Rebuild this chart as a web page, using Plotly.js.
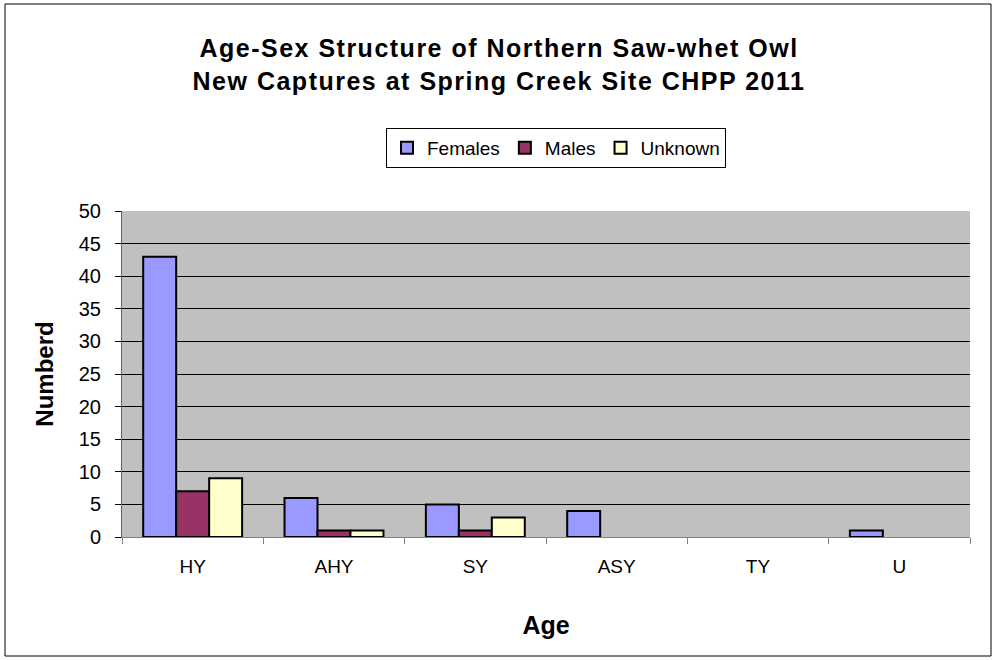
<!DOCTYPE html>
<html><head><meta charset="utf-8">
<script src="https://cdn.plot.ly/plotly-3.0.1.min.js"></script>
<style>html,body{margin:0;padding:0;background:#fff}
.gtitle{letter-spacing:1.5px}</style>
</head><body>
<div id="chart" style="width:998px;height:660px"></div>
<script>
const categories = ["HY", "AHY", "SY", "ASY", "TY", "U"];
const females = [43, 6, 5, 4, 0, 1];
const males = [7, 1, 1, 0, 0, 0];
const unknown = [9, 1, 3, 0, 0, 0];
const yTicks = [0, 5, 10, 15, 20, 25, 30, 35, 40, 45, 50];

const FONT = "Liberation Sans, Arial, sans-serif";
const outline = vals => ({color: "#000", width: vals.map(v => (v === 0 ? 0 : 2))});
const traces = [
  {type: "bar", name: "Females", x: categories, y: females, marker: {color: "#9999FF", line: outline(females)}},
  {type: "bar", name: "Males", x: categories, y: males, marker: {color: "#993366", line: outline(males)}},
  {type: "bar", name: "Unknown", x: categories, y: unknown, marker: {color: "#FFFFCC", line: outline(unknown)}}
];
const L = 122, R = 970, T = 211, B = 537;
const pw = R - L, ph = B - T;
const px = v => (v - L) / pw;
const py = v => (B - v) / ph;
const layout = {
  width: 998, height: 660,
  margin: {l: L, r: 998 - R, t: T, b: 660 - B, pad: 0},
  paper_bgcolor: "#fff", plot_bgcolor: "#C0C0C0",
  font: {family: FONT, color: "#000", size: 18},
  title: {text: "<b>Age-Sex Structure of Northern Saw-whet Owl<br>New Captures at Spring Creek Site CHPP 2011</b>",
    font: {family: FONT, size: 25, color: "#000"}, x: 0.5, xref: "container", xanchor: "center",
    y: 1 - 57 / 660, yref: "container", yanchor: "middle"},
  barmode: "group", bargap: 0.3, bargroupgap: 0,
  showlegend: true,
  legend: {orientation: "h", x: px(556), xanchor: "center", y: py(128), yanchor: "top",
    bordercolor: "#000", borderwidth: 1, bgcolor: "#fff", font: {family: FONT, size: 19},
    itemwidth: 30, traceorder: "normal"},
  xaxis: {type: "category", showgrid: false, ticks: "outside", tickson: "boundaries", ticklen: 6,
    tickcolor: "#808080", showline: true, linecolor: "#808080", linewidth: 1,
    tickfont: {family: FONT, size: 19}, ticklabelstandoff: 12, fixedrange: true,
    title: {text: "<b>Age</b>", font: {family: FONT, size: 25}, standoff: 40}},
  yaxis: {range: [0, 50], tickvals: yTicks, ticktext: yTicks.map(String), showgrid: true, gridcolor: "#000", gridwidth: 1,
    ticks: "outside", ticklen: 6, tickcolor: "#000", showline: true, linecolor: "#606060", linewidth: 1,
    zeroline: false, tickfont: {family: FONT, size: 20}, ticklabelstandoff: 10,
    title: {text: "<b>Numberd</b>", font: {family: FONT, size: 24}, standoff: 18}},
  shapes: [
    {type: "rect", xref: "paper", yref: "paper", x0: px(5), x1: px(991), y0: py(656), y1: py(4),
      line: {color: "#000", width: 1}, fillcolor: "rgba(0,0,0,0)", layer: "below"}
  ]
};
Plotly.newPlot("chart", traces, layout, {displayModeBar: false, staticPlot: true});
</script>
</body></html>
